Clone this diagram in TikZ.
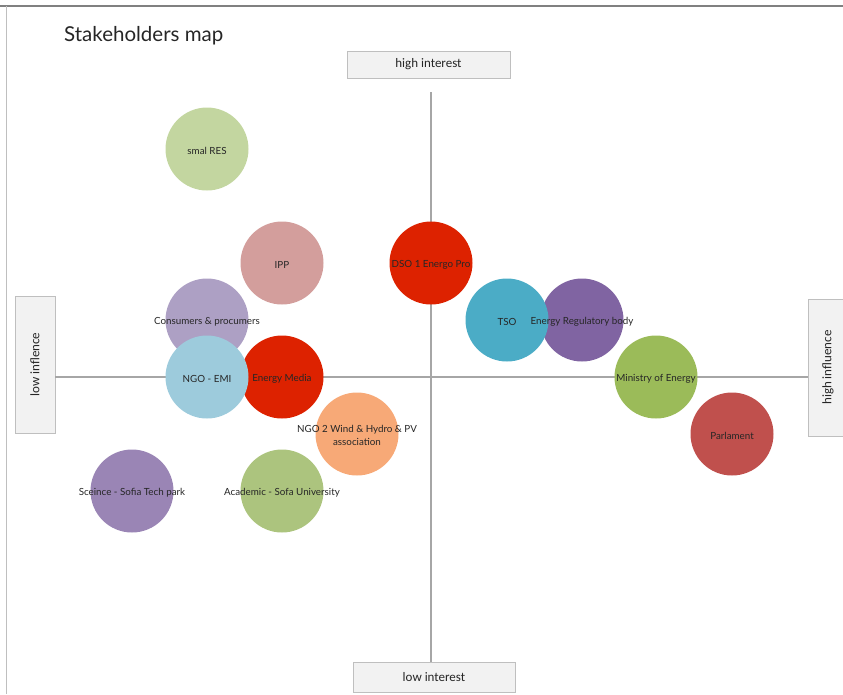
\documentclass[tikz,border=0pt]{standalone}
\usepackage{fontspec}
\setmainfont{Lato}
\newfontfamily\boxfont{Carlito}
\usetikzlibrary{positioning}
\definecolor{axisgrey}{rgb}{0.651, 0.651, 0.651}
\definecolor{boxfill}{rgb}{0.949, 0.949, 0.949}
\definecolor{boxline}{rgb}{0.749, 0.749, 0.749}
\definecolor{labeltext}{rgb}{0.15, 0.15, 0.15}
\definecolor{resgreen}{rgb}{0.765, 0.839, 0.627}
\definecolor{ipppink}{rgb}{0.827, 0.620, 0.612}
\definecolor{conslilac}{rgb}{0.678, 0.627, 0.769}
\definecolor{emiblue}{rgb}{0.616, 0.796, 0.863}
\definecolor{hotred}{rgb}{0.867, 0.133, 0.0}
\definecolor{tsoblue}{rgb}{0.294, 0.675, 0.776}
\definecolor{regpurple}{rgb}{0.502, 0.392, 0.635}
\definecolor{minigreen}{rgb}{0.608, 0.733, 0.349}
\definecolor{parlred}{rgb}{0.753, 0.314, 0.302}
\definecolor{ngopeach}{rgb}{0.969, 0.663, 0.467}
\definecolor{scipurple}{rgb}{0.604, 0.522, 0.710}
\definecolor{acadgreen}{rgb}{0.675, 0.769, 0.494}
\tikzset{stake/.style={circle, minimum size=83pt, inner sep=0pt}}
\tikzset{stxt/.style={font=\fontsize{9.8}{11.5}\selectfont, text=labeltext, align=center, inner sep=0pt, yshift=-1.5pt}}
\tikzset{axbox/.style={draw=boxline, fill=boxfill, font=\boxfont\fontsize{13}{15}\selectfont, text=labeltext}}
\tikzset{axis/.style={color=axisgrey, line width=1.6pt}}

\begin{document}
\begin{tikzpicture}[x=1pt, y=-1pt]
        \useasboundingbox (0, 0) rectangle (843, 694);
        \draw [color=gray, line width=1.5pt] (0, 6) -- (843, 6);
        \draw [color=boxline, line width=1pt] (6.5, 6) -- (6.5, 694);

        \node[anchor=west, inner sep=0pt, font=\fontsize{20.5}{24}\selectfont, text=labeltext] (title) at (64, 35.5) {Stakeholders map};

        \node[axbox, minimum width=163pt, minimum height=27pt] (hi) at (428.5, 64.5) {high interest};
        \node[axbox, minimum width=162pt, minimum height=30pt] (lo) at (434, 677) {low interest};
        \node[axbox, minimum width=40pt, minimum height=137pt] (li) at (35, 364.5) {};
        \node[axbox, minimum width=40pt, minimum height=137pt] (hf) at (828, 367.5) {};
        \node[rotate=90, font=\boxfont\fontsize{13}{15}\selectfont, text=labeltext] at (li) {low inflence};
        \node[rotate=90, font=\boxfont\fontsize{13}{15}\selectfont, text=labeltext] at (hf) {high influence};

        \coordinate (top) at (431, 92);
        \draw [axis] (li.east |- 0, 377) -- (hf.west |- 0, 377);
        \draw [axis] (top) -- (top |- lo.north);

        \node[stake, fill=resgreen] (res) at (207, 149) {};
        \node[stake, fill=ipppink] (ipp) at (282, 263) {};
        \node[stake, fill=hotred] (dso) at (431, 263) {};
        \node[stake, fill=conslilac] (cons) at (207, 320) {};
        \node[stake, fill=regpurple] (reg) at (582, 320) {};
        \node[stake, fill=tsoblue] (tso) at (507, 320) {};
        \node[stake, fill=hotred] (media) at (282, 377) {};
        \node[stake, fill=emiblue] (emi) at (207, 377) {};
        \node[stake, fill=minigreen] (mine) at (656, 377) {};
        \node[stake, fill=parlred] (parl) at (732, 434) {};
        \node[stake, fill=ngopeach] (ngo) at (357, 434) {};
        \node[stake, fill=scipurple] (sci) at (132, 491) {};
        \node[stake, fill=acadgreen] (acad) at (282, 491) {};

        \node[stxt] at (res) {smal RES};
        \node[stxt] at (ipp) {IPP};
        \node[stxt] at (dso) {DSO 1 Energo Pro};
        \node[stxt] at (cons) {Consumers \& procumers};
        \node[stxt] at (reg) {Energy Regulatory body};
        \node[stxt] at (tso) {TSO};
        \node[stxt] at (media) {Energy Media};
        \node[stxt] at (emi) {NGO - EMI};
        \node[stxt] at (mine) {Ministry of Energy};
        \node[stxt] at (parl) {Parlament};
        \node[stxt] at (ngo) {NGO 2 Wind \& Hydro \& PV\\[1pt]association};
        \node[stxt] at (sci) {Sceince - Sofia Tech park};
        \node[stxt] at (acad) {Academic - Sofa University};
    \end{tikzpicture}
\end{document}
